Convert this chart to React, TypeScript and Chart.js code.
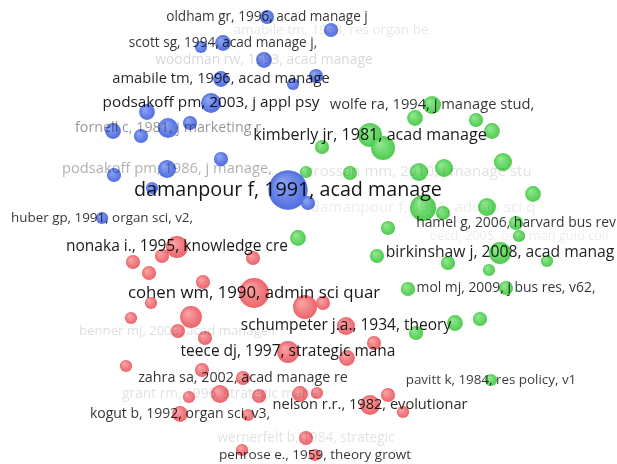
import { useEffect, useRef } from "react";
import { Chart, registerables } from "chart.js";

Chart.register(...registerables);

// ---- Map coordinates (VOSviewer layout units), weights and labels per cluster ----
const blueX = [267, 331, 201, 223, 264, 221, 293, 316, 211, 147, 113, 141, 168, 190, 221, 114, 167, 152, 288, 308, 102];
const blueY = [17, 30, 47, 43, 60, 79, 84, 76, 103, 112, 131, 136, 128, 123, 159, 175, 169, 188, 190, 203, 218];
const blueWeight = [8, 8, 6, 10, 10, 10, 6, 8, 16, 10, 10, 8, 16, 8, 8, 8, 13, 6, 62, 8, 6];
const blueLabels = [
  "oldham gr, 1996, acad manage j",
  "amabile tm, 1988, res organ be",
  "",
  "scott sg, 1994, acad manage j,",
  "woodman rw, 1993, acad manage",
  "amabile tm, 1996, acad manage",
  "",
  "",
  "podsakoff pm, 2003, j appl psy",
  "",
  "",
  "",
  "fornell c, 1981, j marketing r",
  "",
  "",
  "",
  "podsakoff pm, 1986, j manage,",
  "",
  "damanpour f, 1991, acad manage",
  "",
  "huber gp, 1991, organ sci, v2,",
];

const greenX = [432, 415, 476, 492, 370, 383, 322, 503, 306, 350, 419, 444, 533, 423, 443, 487, 516, 388, 519, 298, 377, 500, 448, 547, 489, 408, 506, 455, 480, 416, 491];
const greenY = [105, 118, 120, 131, 135, 148, 147, 162, 172, 173, 172, 168, 194, 208, 213, 207, 223, 228, 236, 238, 256, 253, 263, 261, 270, 289, 288, 323, 319, 333, 380];
const greenWeight = [13, 10, 8, 10, 23, 23, 8, 13, 6, 8, 13, 13, 10, 27, 8, 13, 8, 8, 6, 10, 8, 19, 8, 6, 6, 8, 8, 10, 8, 8, 6];
const greenLabels = [
  "wolfe ra, 1994, j manage stud,",
  "", "", "",
  "kimberly jr, 1981, acad manage",
  "", "", "", "", "",
  "crossan mm, 2010, j manage stu",
  "", "",
  "damanpour f, 1996, admin sci q",
  "", "",
  "hamel g, 2006, harvard bus rev",
  "",
  "oecd, 2005, oslo man guid coll",
  "", "",
  "birkinshaw j, 2008, acad manag",
  "", "", "", "",
  "mol mj, 2009, j bus res, v62,",
  "", "", "",
  "pavitt k, 1984, res policy, v1",
];

const redX = [177, 133, 162, 149, 203, 253, 254, 305, 323, 151, 131, 191, 178, 205, 346, 288, 347, 374, 126, 202, 243, 220, 189, 259, 300, 317, 180, 248, 370, 388, 403, 306, 242, 315];
const redY = [247, 262, 256, 273, 282, 258, 293, 307, 303, 303, 318, 317, 331, 338, 326, 352, 358, 343, 366, 370, 378, 394, 397, 396, 394, 393, 414, 415, 405, 395, 412, 438, 450, 455];
const redWeight = [19, 8, 8, 8, 8, 8, 36, 23, 8, 6, 6, 19, 8, 8, 13, 19, 10, 8, 6, 8, 8, 13, 6, 8, 10, 6, 10, 6, 16, 8, 6, 8, 6, 6];
const redLabels = [
  "nonaka i., 1995, knowledge cre",
  "", "", "", "", "",
  "cohen wm, 1990, admin sci quar",
  "", "", "", "", "",
  "benner mj, 2003, acad manage r",
  "",
  "schumpeter j.a., 1934, theory",
  "teece dj, 1997, strategic mana",
  "", "", "", "",
  "zahra sa, 2002, acad manage re",
  "grant rm, 1996, strategic mana",
  "", "", "", "",
  "kogut b, 1992, organ sci, v3,",
  "",
  "nelson r.r., 1982, evolutionar",
  "", "",
  "wernerfelt b, 1984, strategic",
  "",
  "penrose e., 1959, theory growt",
];

// ---- Styles (kept separate from data) ----
const labelStyle: Record<string, { size: number; alpha: number }> = {
  "oldham gr, 1996, acad manage j": { size: 13.6, alpha: 0.8 },
  "amabile tm, 1988, res organ be": { size: 13.5, alpha: 0.1 },
  "scott sg, 1994, acad manage j,": { size: 13.6, alpha: 0.8 },
  "woodman rw, 1993, acad manage": { size: 13.9, alpha: 0.16 },
  "amabile tm, 1996, acad manage": { size: 14.7, alpha: 0.85 },
  "podsakoff pm, 2003, j appl psy": { size: 15.3, alpha: 0.9 },
  "fornell c, 1981, j marketing r": { size: 14.3, alpha: 0.42 },
  "podsakoff pm, 1986, j manage,": { size: 14.7, alpha: 0.32 },
  "damanpour f, 1991, acad manage": { size: 19.7, alpha: 0.92 },
  "huber gp, 1991, organ sci, v2,": { size: 13.4, alpha: 0.8 },
  "wolfe ra, 1994, j manage stud,": { size: 14.7, alpha: 0.8 },
  "kimberly jr, 1981, acad manage": { size: 16.1, alpha: 0.9 },
  "crossan mm, 2010, j manage stu": { size: 15, alpha: 0.12 },
  "damanpour f, 1996, admin sci q": { size: 15.3, alpha: 0.08 },
  "hamel g, 2006, harvard bus rev": { size: 13.9, alpha: 0.8 },
  "oecd, 2005, oslo man guid coll": { size: 12.8, alpha: 0.08 },
  "birkinshaw j, 2008, acad manag": { size: 15.7, alpha: 0.88 },
  "mol mj, 2009, j bus res, v62,": { size: 13.9, alpha: 0.8 },
  "pavitt k, 1984, res policy, v1": { size: 13.4, alpha: 0.78 },
  "nonaka i., 1995, knowledge cre": { size: 15.5, alpha: 0.9 },
  "cohen wm, 1990, admin sci quar": { size: 16.8, alpha: 0.92 },
  "benner mj, 2003, acad manage r": { size: 13.2, alpha: 0.14 },
  "schumpeter j.a., 1934, theory": { size: 15.5, alpha: 0.9 },
  "teece dj, 1997, strategic mana": { size: 15.5, alpha: 0.9 },
  "zahra sa, 2002, acad manage re": { size: 14.3, alpha: 0.8 },
  "grant rm, 1996, strategic mana": { size: 13.7, alpha: 0.12 },
  "kogut b, 1992, organ sci, v3,": { size: 14, alpha: 0.8 },
  "nelson r.r., 1982, evolutionar": { size: 14.6, alpha: 0.85 },
  "wernerfelt b, 1984, strategic": { size: 13.6, alpha: 0.12 },
  "penrose e., 1959, theory growt": { size: 13.5, alpha: 0.8 },
};

const clusterColors = [
  { light: "rgba(135,160,245,0.95)", dark: "rgba(72,102,222,0.95)" },
  { light: "rgba(140,232,140,0.95)", dark: "rgba(70,200,70,0.95)" },
  { light: "rgba(250,160,163,0.95)", dark: "rgba(234,92,98,0.95)" },
];

const radiusOf = (w: number) => Math.sqrt(w) * 2.5;

function makeDataset(xs: number[], ys: number[], ws: number[], labels: string[], ci: number) {
  const col = clusterColors[ci];
  return {
    label: "cluster " + (ci + 1),
    data: xs.map((x, i) => ({ x, y: ys[i], r: radiusOf(ws[i]), label: labels[i] })),
    borderWidth: 0,
    clip: false as const,
    backgroundColor: (ctx: any) => {
      const chart = ctx.chart;
      const raw = ctx.raw;
      if (!raw || !chart.chartArea || !chart.scales.x) return col.dark;
      const px = chart.scales.x.getPixelForValue(raw.x);
      const py = chart.scales.y.getPixelForValue(raw.y);
      const r = raw.r;
      const g = chart.ctx.createRadialGradient(px - r * 0.35, py - r * 0.4, r * 0.05, px, py, r);
      g.addColorStop(0, col.light);
      g.addColorStop(1, col.dark);
      return g;
    },
  };
}

const labelPlugin = {
  id: "nodeLabels",
  afterDatasetsDraw(chart: any) {
    const c = chart.ctx;
    c.save();
    c.textAlign = "center";
    c.textBaseline = "middle";
    chart.data.datasets.forEach((ds: any) => {
      ds.data.forEach((d: any) => {
        if (!d.label) return;
        const st = labelStyle[d.label] || { size: 12, alpha: 0.8 };
        const px = chart.scales.x.getPixelForValue(d.x);
        const py = chart.scales.y.getPixelForValue(d.y);
        c.font = `${st.size}px "Open Sans"`;
        c.fillStyle = `rgba(0,0,0,${st.alpha})`;
        c.fillText(d.label, px, py);
      });
    });
    c.restore();
  },
};

export default function App() {
  const ref = useRef<HTMLCanvasElement | null>(null);
  useEffect(() => {
    document.body.style.margin = "0";
    document.body.style.background = "#ffffff";
    if (!ref.current) return;
    const chart = new Chart(ref.current, {
      type: "bubble",
      data: {
        datasets: [
          makeDataset(blueX, blueY, blueWeight, blueLabels, 0),
          makeDataset(greenX, greenY, greenWeight, greenLabels, 1),
          makeDataset(redX, redY, redWeight, redLabels, 2),
        ] as any,
      },
      options: {
        responsive: false,
        animation: false,
        events: [],
        layout: { padding: 0, autoPadding: false } as any,
        plugins: { legend: { display: false }, tooltip: { enabled: false } },
        scales: {
          x: { type: "linear", min: 0, max: 617, display: false },
          y: { type: "linear", min: 0, max: 464, reverse: true, display: false },
        },
      },
      plugins: [labelPlugin],
    });
    return () => chart.destroy();
  }, []);
  return <canvas ref={ref} width={617} height={464} style={{ display: "block" }} />;
}
